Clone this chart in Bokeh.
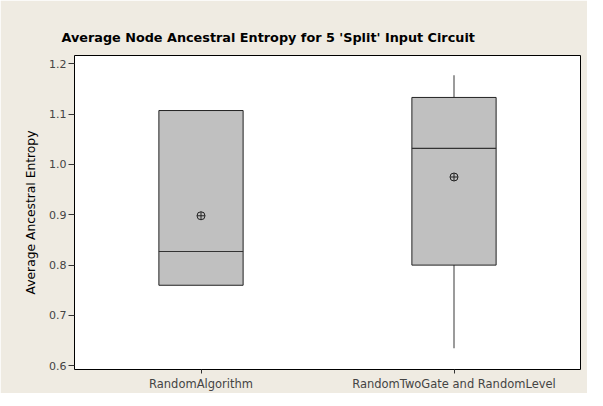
from bokeh.plotting import figure
from bokeh.models import ColumnDataSource, FactorRange, Range1d, FixedTicker, PrintfTickFormatter
from bokeh.transform import dodge
from bokeh.embed import file_html
from bokeh.resources import INLINE

categories = ["RandomAlgorithm", "RandomTwoGate and RandomLevel"]
q1 = [0.760, 0.800]
median = [0.827, 1.032]
q3 = [1.107, 1.133]
whisker_low = [0.760, 0.635]
whisker_high = [1.107, 1.177]
mean = [0.898, 0.975]
y_ticks = [0.6, 0.7, 0.8, 0.9, 1.0, 1.1, 1.2]

BG = "#EFEBE2"
src = ColumnDataSource(dict(cat=categories, q1=q1, med=median, q3=q3,
                            lo=whisker_low, hi=whisker_high, mean=mean))

p = figure(x_range=FactorRange(*categories, range_padding=0),
           y_range=Range1d(0.5927, 1.2163),
           frame_width=506, frame_height=314,
           min_border_left=74, min_border_right=7,
           min_border_top=55, min_border_bottom=21,
           output_backend="svg", toolbar_location=None,
           title="Average Node Ancestral Entropy for 5 'Split' Input Circuit")

p.background_fill_color = "white"
p.border_fill_color = BG
p.outline_line_color = "black"
p.outline_line_width = 1
p.xgrid.visible = False
p.ygrid.visible = False

p.title.align = "left"
p.title.offset = -13
p.title.standoff = 22
p.title.text_font = "DejaVu Sans"
p.title.text_font_size = "12.8px"
p.title.text_font_style = "bold"
p.title.text_color = "black"

# whiskers
p.segment(x0="cat", y0="lo", x1="cat", y1="q1", source=src, line_color="#7a7a7a", line_width=1.5)
p.segment(x0="cat", y0="q3", x1="cat", y1="hi", source=src, line_color="#7a7a7a", line_width=1.5)
# boxes
p.vbar(x="cat", bottom="q1", top="q3", width=0.333, source=src,
       fill_color="#C0C0C0", line_color="#222222", line_width=1)
# medians
p.segment(x0=dodge("cat", -0.1665, range=p.x_range), y0="med",
          x1=dodge("cat", 0.1665, range=p.x_range), y1="med",
          source=src, line_color="#333333", line_width=1.2)
# means
p.scatter(x="cat", y="mean", source=src, marker="circle_cross", size=8,
          fill_color=None, line_color="#222222", line_width=1)

p.yaxis.ticker = FixedTicker(ticks=y_ticks)
p.yaxis.formatter = PrintfTickFormatter(format="%.1f")
p.yaxis.axis_label = "Average Ancestral Entropy"
p.yaxis.axis_label_text_font = "DejaVu Sans"
p.yaxis.axis_label_text_font_size = "12.3px"
p.yaxis.axis_label_text_font_style = "normal"
p.yaxis.axis_label_text_color = "black"
p.yaxis.minor_tick_line_color = None
p.yaxis.major_tick_out = 6
p.yaxis.major_label_standoff = 2
p.yaxis.axis_label_standoff = 8

for ax in (p.xaxis[0], p.yaxis[0]):
    ax.axis_line_color = None
    ax.major_tick_line_color = "#333333"
    ax.major_tick_in = 0
    ax.major_label_text_font = "DejaVu Sans"
    ax.major_label_text_color = "#444444"

p.yaxis.major_label_text_font_size = "11px"
p.xaxis.major_label_text_font_size = "11.5px"
p.xaxis.major_tick_out = 4
p.xaxis.major_label_standoff = 3

open("out.html", "w").write(file_html(p, INLINE))
